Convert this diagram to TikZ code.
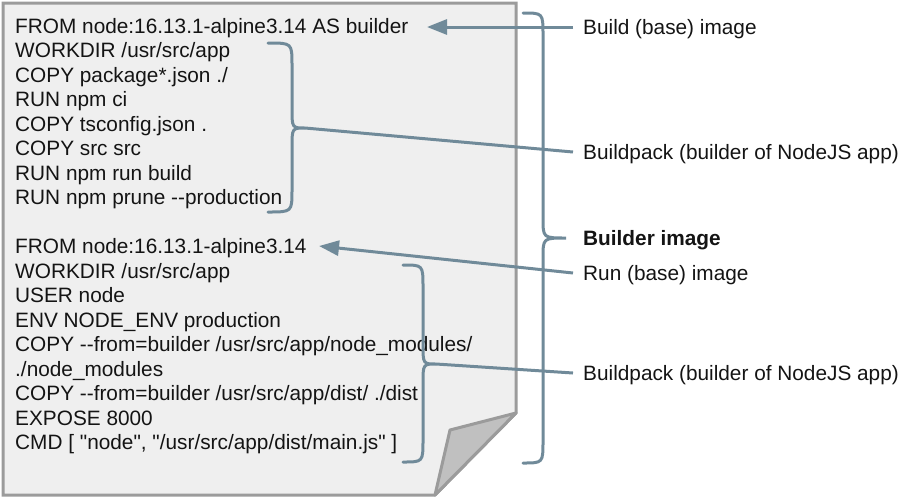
\documentclass[tikz,border=0pt]{standalone}
\usepackage{fontspec}
\newfontfamily\lsans{Liberation Sans}
\usetikzlibrary{arrows.meta}
\definecolor{conn}{RGB}{112,138,153}
\definecolor{docedge}{RGB}{155,155,155}
\definecolor{docfill}{RGB}{239,239,239}
\definecolor{foldfill}{RGB}{192,192,192}
\definecolor{ink}{RGB}{20,20,20}
\newcommand{\bracepath}[6]{% xl, xs, xt, yt, ym, yb
  \draw[bracestyle] (#1,#4) .. controls (#2,#4) .. (#2,#4+22)
    -- (#2,#5-20) .. controls (#2,#5) .. (#3,#5)
    .. controls (#2,#5) .. (#2,#5+20)
    -- (#2,#6-22) .. controls (#2,#6) .. (#1,#6);}
\begin{document}
\begin{tikzpicture}[x=1pt,y=-1pt,
  code/.style={anchor=base west,inner sep=0pt,text=ink,font=\lsans\fontsize{20.8}{24.5}\selectfont},
  lbl/.style={anchor=west,inner xsep=10pt,inner ysep=0pt,text height=14.9pt,text depth=0pt,text=ink,font=\lsans\fontsize{20.8}{24.5}\selectfont},
  bracestyle/.style={draw=conn,line width=3pt,line cap=round},
  connline/.style={draw=conn,line width=3pt},
  connarrow/.style={draw=conn,line width=3pt,-{Triangle[length=20pt,width=15pt]}},
  docstyle/.style={draw=docedge,line width=3pt,fill=docfill,line join=miter},
  foldstyle/.style={draw=docedge,line width=3pt,fill=foldfill,line join=round}]
\useasboundingbox (0,0) rectangle (900,499);
% document with folded corner
\path[docstyle] (3,3) -- (516,3) -- (516,413) -- (435,495) -- (3,495) -- cycle;
\path[foldstyle] (516,413) -- (450,430) -- (435,495) -- cycle;
% code lines
\node[code] (c1) at (15,33) {FROM node:16.13.1-alpine3.14 AS builder};
\node[code] (c2) at (15,57.5) {WORKDIR /usr/src/app};
\node[code] (c3) at (15,82) {COPY package*.json ./};
\node[code] (c4) at (15,106.5) {RUN npm ci};
\node[code] (c5) at (15,131) {COPY tsconfig.json .};
\node[code] (c6) at (15,155.5) {COPY src src};
\node[code] (c7) at (15,180) {RUN npm run build};
\node[code] (c8) at (15,204.5) {RUN npm prune --production};
\node[code] (c10) at (15,253.5) {FROM node:16.13.1-alpine3.14};
\node[code] (c11) at (15,278) {WORKDIR /usr/src/app};
\node[code] (c12) at (15,302.5) {USER node};
\node[code] (c13) at (15,327) {ENV NODE\_ENV production};
\node[code] (c14) at (15,351.5) {COPY --from=builder /usr/src/app/node\_modules/};
\node[code] (c15) at (15,376) {./node\_modules};
\node[code] (c16) at (15,400.5) {COPY --from=builder /usr/src/app/dist/ ./dist};
\node[code] (c17) at (15,425) {EXPOSE 8000};
\node[code] (c18) at (15,449.5) {CMD [ "node", "/usr/src/app/dist/main.js" ]};
% right labels
\node[lbl] (lbuild) at (573,27) {Build (base) image};
\node[lbl] (lbp1) at (573,152) {Buildpack (builder of NodeJS app)};
\node[lbl] (lbimg) at (573,238) {\bfseries Builder image};
\node[lbl] (lrun) at (573,273) {Run (base) image};
\node[lbl] (lbp2) at (573,373) {Buildpack (builder of NodeJS app)};
% braces
\bracepath{268}{292}{305}{43}{128}{212}
\bracepath{403}{423}{436}{265}{364}{462}
\bracepath{523}{543}{566}{13}{238}{463}
\coordinate (tipA) at (305,128);
\coordinate (tipB) at (436,364);
\coordinate (buildtip) at (427,27);
\coordinate (runtip) at (319,246);
% connectors
\draw[connline] (lbp1.west) -- (tipA);
\draw[connline] (lbp2.west) -- (tipB);
\draw[connarrow] (lbuild.west) -- (buildtip);
\draw[connarrow] (lrun.west) -- (runtip);
\end{tikzpicture}
\end{document}
